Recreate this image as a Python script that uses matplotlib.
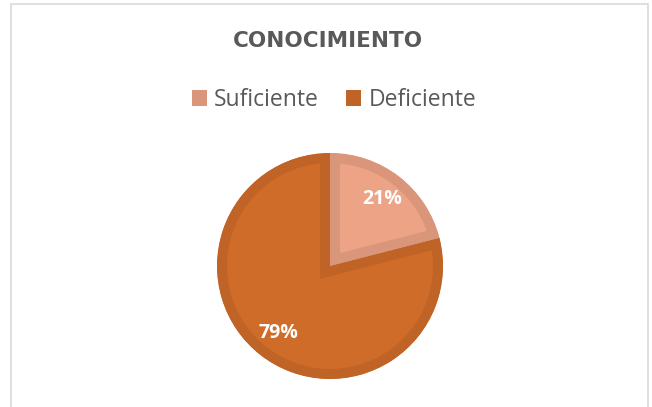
import matplotlib.pyplot as plt
from matplotlib.patches import Patch, Rectangle

title = 'CONOCIMIENTO'
labels = ['Suficiente', 'Deficiente']
values = [21, 79]
fills = ['#EDA385', '#D06C2A']
edges = ['#D9967A', '#BF6326']

fig = plt.figure(figsize=(6.52, 4.07), dpi=100)
ax = fig.add_axes([0, 0, 1, 1])

wedges, texts, pcts = ax.pie(values, colors=fills, startangle=90, counterclock=False,
                             center=(330, 141), radius=113,
                             autopct='%1.0f%%', pctdistance=0.75,
                             textprops=dict(color='white', fontweight='bold',
                                            fontsize=14, family='Open Sans'))

# borders drawn inside each slice (stroke clipped to the slice)
for w, ec in zip(wedges, edges):
    w.set_edgecolor(ec)
    w.set_linewidth(14.4)
    w.set_joinstyle('miter')
    w.set_clip_on(True)
    w.set_clip_path(w)

ax.set_xlim(0, 652)
ax.set_ylim(0, 407)
ax.set_aspect('equal')
ax.axis('off')

# chart border
fig.patches.append(Rectangle((10.5, -5), 637.5, 408.5, transform=None,
                             fill=False, edgecolor='#D9D9D9', linewidth=1.2))

ax.text(328, 366, title, ha='center', va='center', fontsize=15.5,
        fontweight='bold', color='#595959', family='DejaVu Sans')

handles = [Patch(facecolor=c, edgecolor='none') for c in edges]
ax.legend(handles, labels, ncol=2, loc='center', bbox_to_anchor=(334, 307),
          bbox_transform=ax.transData, frameon=False,
          prop=dict(family='Open Sans', size=16.5), labelcolor='#595959',
          handlelength=0.66, handleheight=0.66, handletextpad=0.3,
          columnspacing=1.2, borderpad=0)

fig.savefig('out.png', dpi=100)
